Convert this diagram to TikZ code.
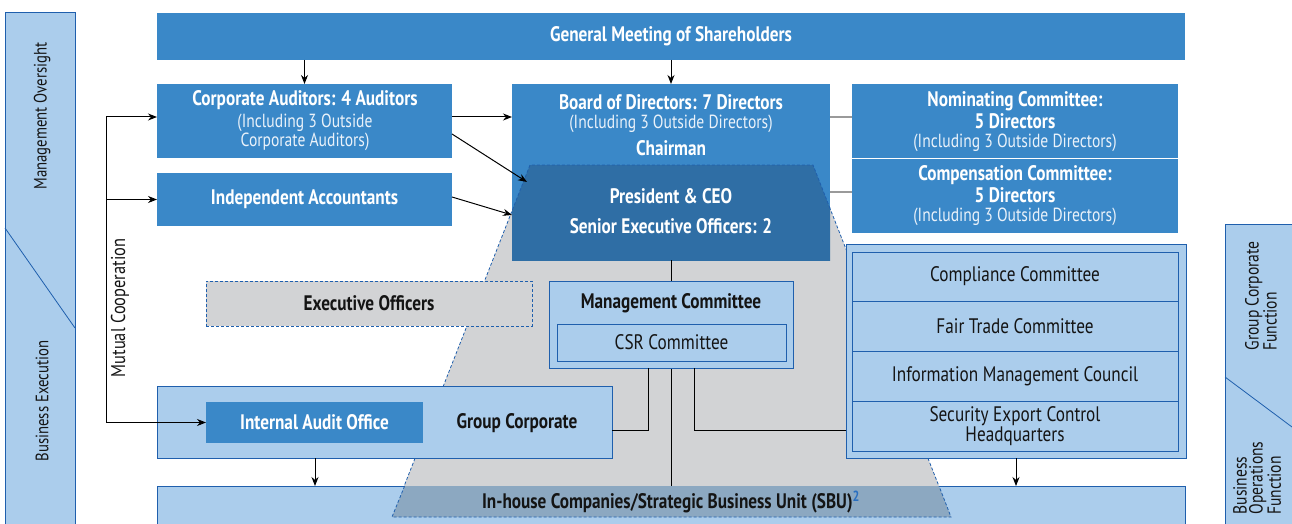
\documentclass[tikz,border=0pt]{standalone}
\usepackage{fontspec}
\setmainfont{PT Sans}[FakeStretch=0.82]
\usetikzlibrary{arrows.meta}
\definecolor{medblue}{HTML}{3A88C8}
\definecolor{darkblue}{HTML}{2F6EA5}
\definecolor{lightblue}{HTML}{ABCDEC}
\definecolor{edgeblue}{HTML}{1F5FAD}
\definecolor{trapgray}{HTML}{D2D3D5}
\definecolor{sbugray}{HTML}{8CA8C1}
\definecolor{linkgray}{HTML}{9A9A9A}
\definecolor{ink}{HTML}{141414}
\definecolor{softwhite}{HTML}{EAF2FA}
\definecolor{supblue}{HTML}{2A6FC0}
\begin{document}
\begin{tikzpicture}[x=1pt,y=-1pt,
  box/.style={inner sep=0pt, outer sep=0pt, anchor=north west},
  med/.style={box, fill=medblue},
  light/.style={box, fill=lightblue, draw=edgeblue, line width=1pt},
  hd/.style={inner sep=0pt, font=\fontsize{21}{22}\selectfont\bfseries, text=white},
  sub/.style={inner sep=0pt, font=\fontsize{19}{17}\selectfont, text=softwhite, align=center},
  dk/.style={inner sep=0pt, font=\fontsize{21}{22}\selectfont\bfseries, text=ink},
  dkr/.style={inner sep=0pt, font=\fontsize{21}{20}\selectfont, text=ink, align=center},
  side/.style={inner sep=0pt, font=\fontsize{18}{17}\selectfont, text=ink, rotate=90, align=left},
  arr/.style={-{Stealth[length=9pt,width=7pt]}, line width=1pt, black},
  conn/.style={line width=1pt, black},
  dsh/.style={draw=edgeblue, line width=0.8pt, dash pattern=on 3pt off 2pt},
  glink/.style={draw=linkgray, line width=2.8pt}
]
\useasboundingbox (0,0) rectangle (1292,524);

% side bands
\node[box, fill=lightblue, draw=edgeblue, line width=0.8pt, minimum width=70, minimum height=530] (lband) at (5,12) {};
\coordinate (ld1) at (0,228);
\coordinate (ld2) at (0,328);
\draw[edgeblue, line width=0.8pt] (lband.west |- ld1) -- (lband.east |- ld2);
\node[side] (lmo) at (42,116) {Management Oversight};
\node[side] (lbe) at (42,401) {Business Execution};

\node[box, fill=lightblue, draw=edgeblue, line width=0.8pt, minimum width=80, minimum height=320] (rband) at (1225,224) {};
\coordinate (rd1) at (1225,377);
\coordinate (rd2) at (1292,427);
\draw[edgeblue, line width=0.8pt] (rd1) -- (rd2);
\node[side, font=\fontsize{19}{18}\selectfont] (rgc) at (1261,296) {Group Corporate\\Function};
\node[side, font=\fontsize{19}{16}\selectfont] (rbo) at (1257,478) {Business\\Operations\\Function};

% gray trapezoid
\fill[trapgray] (530,165) -- (813,165) -- (951,517) -- (392,517) -- cycle;
\draw[dsh] (392,517) -- (530,165);
\draw[dsh] (813,165) -- (951,517);

% SBU bar
\node[box, fill=lightblue, draw=edgeblue, line width=0.8pt, minimum width=1028, minimum height=45] (sbu) at (157,486) {};
\fill[sbugray] (404.6,486) -- (939,486) -- (951,517) -- (392,517) -- cycle;
\draw[dsh] (404.6,486) -- (392,517) -- (951,517) -- (939,486);
\node[dk] (sbut) at (671,502) {In-house Companies/Strategic Business Unit (SBU)\textsuperscript{\textcolor{supblue}{2}}};

% top
\node[med, hd, minimum width=1028, minimum height=47] (gm) at (157,13) {General Meeting of Shareholders};

\node[med, minimum width=295, minimum height=74] (ca) at (157,84) {};
\node[hd] (cat1) at (305,100) {Corporate Auditors: 4 Auditors};
\node[sub] (cat2) at (305,132) {(Including 3 Outside\\Corporate Auditors)};

\node[med, hd, minimum width=295, minimum height=53] (ia) at (157,173) {Independent Accountants};

% board
\node[med, minimum width=318, minimum height=176] (bd) at (512,84) {};
\begin{scope}
  \clip (bd.north west) rectangle (bd.south east);
  \fill[darkblue] (530,165) -- (813,165) -- (951,517) -- (392,517) -- cycle;
  \draw[dsh] (392,517) -- (530,165) -- (813,165) -- (951,517);
\end{scope}
\node[hd] (bdt1) at (671,102) {Board of Directors: 7 Directors};
\node[sub] (bdt2) at (671,124) {(Including 3 Outside Directors)};
\node[hd] (bdt3) at (671,148) {Chairman};
\node[hd] (pr1) at (671,196) {President \& CEO};
\node[hd] (pr2) at (671,226) {Senior Executive Officers: 2};

% committees
\node[med, minimum width=326, minimum height=74] (nom) at (852,84) {};
\node[hd] (nom1) at (1015,101) {Nominating Committee:};
\node[hd] (nom2) at (1015,121) {5 Directors};
\node[sub] (nom3) at (1015,143) {(Including 3 Outside Directors)};
\node[med, minimum width=326, minimum height=74] (comp) at (852,159) {};
\node[hd] (comp1) at (1015,175) {Compensation Committee:};
\node[hd] (comp2) at (1015,195) {5 Directors};
\node[sub] (comp3) at (1015,217) {(Including 3 Outside Directors)};

\coordinate (y117) at (0,117);
\coordinate (y192) at (0,192);
\draw[glink] (bd.east |- y117) -- (nom.west |- y117);
\draw[glink] (bd.east |- y192) -- (comp.west |- y192);

% central vertical line
\draw[conn] (bd.south) -- (sbu.north -| bd.south);

% executive officers
\node[box, dsh, fill=trapgray, minimum width=326, minimum height=45] (eo) at (206,281) {};
\node[dk] (eot) at (eo.center) {Executive Officers};

% management committee
\node[light, minimum width=244, minimum height=87] (mc) at (549,281) {};
\node[dk] (mct) at (671,303) {Management Committee};
\node[light, dkr, minimum width=229, minimum height=37] (csr) at (557,324) {CSR Committee};

% group corporate
\node[light, minimum width=455, minimum height=72] (gc) at (157,386) {};
\node[med, hd, minimum width=217, minimum height=41] (iao) at (206,402) {Internal Audit Office};
\node[dk] (gct) at (517,423) {Group Corporate};

% right box
\node[light, minimum width=340, minimum height=214] (rb) at (846,244) {};
\node[light, dkr, minimum width=326, minimum height=49] (r1) at (852,252) {Compliance Committee};
\node[light, dkr, minimum width=326, minimum height=50] (r2) at (852,301) {Fair Trade Committee};
\node[light, dkr, minimum width=326, minimum height=50] (r3) at (852,351) {Information Management Council};
\node[light, dkr, minimum width=326, minimum height=50] (r4) at (852,401) {Security Export Control\\Headquarters};

% connectors from management committee
\coordinate (mcL) at (648,368);
\coordinate (kL) at (648,430);
\coordinate (mcR) at (694,368);
\coordinate (kR) at (694,430);
\draw[conn] (mcL) -- (kL) -- (gc.east |- kL);
\draw[conn] (mcR) -- (kR) -- (rb.west |- kR);

% arrows
\draw[arr] (gm.south -| ca.north) -- (ca.north);
\draw[arr] (gm.south -| bd.north) -- (bd.north);
\draw[arr] (ca.east |- y117) -- (bd.west |- y117);
\coordinate (y134) at (0,134);
\coordinate (y197) at (0,197);
\coordinate (pL1) at (527,182);
\coordinate (pL2) at (512,215);
\draw[arr] (ca.east |- y134) -- (pL1);
\draw[arr] (ia.east |- y197) -- (pL2);

\coordinate (gx) at (315,0);
\coordinate (rx) at (1016,0);
\draw[arr] (gc.south -| gx) -- (sbu.north -| gx);
\draw[arr] (rb.south -| rx) -- (sbu.north -| rx);

% mutual cooperation
\coordinate (mtop) at (106,117);
\draw[arr] (mtop |- iao.west) -- (mtop) -- (ca.west |- mtop);
\draw[arr] (mtop |- ia.west) -- (ia.west);
\draw[arr] (mtop) -- (mtop |- iao.west) -- (iao.west);
\node[side, font=\fontsize{20}{20}\selectfont] (mut) at (120,308) {Mutual Cooperation};
\end{tikzpicture}
\end{document}
